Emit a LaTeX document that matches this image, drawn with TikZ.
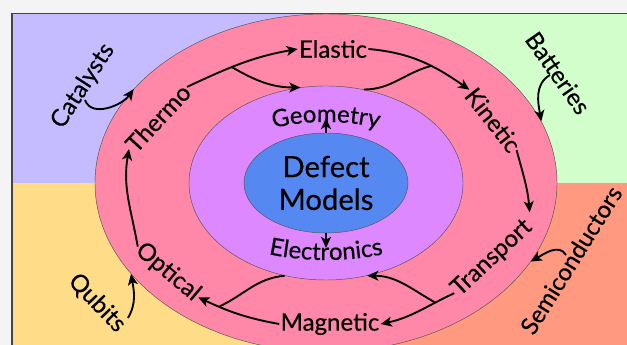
\documentclass[tikz,border=0pt]{standalone}
\usepackage{fontspec}
\setmainfont{Lato}[FakeBold=0.4]
\usetikzlibrary{positioning,arrows.meta,shapes.geometric,decorations.text}

\definecolor{pagegray}{HTML}{F4F4F4}
\definecolor{framegray}{HTML}{444444}
\definecolor{lavender}{HTML}{C4BCFF}
\definecolor{mint}{HTML}{D2FECC}
\definecolor{sand}{HTML}{FFDC88}
\definecolor{salmon}{HTML}{FF9A80}
\definecolor{ringpink}{HTML}{FF87A7}
\definecolor{ringviolet}{HTML}{DD88FF}
\definecolor{coreblue}{HTML}{5588F0}
\definecolor{edgegray}{HTML}{555555}

\newcommand{\ringfont}{\fontsize{20.5}{24}\selectfont}
\newcommand{\corefont}{\fontsize{25}{28}\selectfont}

\begin{document}
\begin{tikzpicture}[
        x=0.03cm, y=0.03cm, % one unit = one pixel of the reference
        ring/.style={draw=edgegray, line width=0.4pt, ellipse, inner sep=0pt},
        topic/.style={font=\ringfont, inner sep=1pt},
        flow/.style={draw, line width=1.6pt, -{Stealth[length=9.5pt, width=8.5pt, inset=2.5pt]}},
        feed/.style={draw, line width=1.6pt}
    ]

    % Background
    \clip (0,0) rectangle (627,345);
    \fill[pagegray] (0,0) rectangle (627,345);
    \fill[lavender] (12,162) rectangle (326,332);
    \fill[mint] (326,162) rectangle (627,332);
    \fill[sand] (12,0) rectangle (326,162);
    \fill[salmon] (326,0) rectangle (627,162);
    \draw[framegray, line width=1.4pt] (12,-5) -- (12,331.5) -- (632,331.5);

    % Rings
    \node[ring, fill=ringpink, minimum width=13.86cm, minimum height=10.14cm] (outer) at (326,162) {};
    \node[ring, fill=ringviolet, minimum width=8.22cm, minimum height=5.82cm] (mid) at (326,162) {};
    \node[ring, fill=coreblue, minimum width=4.92cm, minimum height=3cm, font=\corefont, align=center] (core) at (326,162) {Defect\\Models};

    % Nodes
    \node[topic, rotate=47] (thermo) at (158,227) {Thermo};
    \node[topic] (elastic) at (333,296) {Elastic};
    \node[topic, rotate=-52] (kinetic) at (493,225) {Kinetic};
    \node[topic, rotate=43] (transport) at (492,87) {Transport};
    \node[topic] (magnetic) at (330,21) {Magnetic};
    \node[topic, rotate=-40] (optical) at (168,73) {Optical};

    \node[topic, rotate=57] (catalysts) at (83,259) {Catalysts};
    \node[topic, rotate=-55] (batteries) at (558,272) {Batteries};
    \node[topic, rotate=58] (semicond) at (571,85) {Semiconductors};
    \node[topic, rotate=-46] (qubits) at (97,42) {Qubits};

    \path[decorate, decoration={text along path, text align=center, text={|\ringfont|Geometry}}]
        (326,162) ++(155:120 and 61) arc[start angle=155, end angle=25, x radius=120, y radius=61];
    \path[decorate, decoration={text along path, text align=center, text={|\ringfont|Electronics}}]
        (326,162) ++(205:150 and 77) arc[start angle=205, end angle=335, x radius=150, y radius=77];

    % Free ends
    \coordinate (catstart) at (85,245);
    \coordinate (batstart) at (550,270);
    \coordinate (semistart) at (566,90);
    \coordinate (qubstart) at (128,27);
    \coordinate (geotip) at (326,227);
    \coordinate (electip) at (326,97);

    % Edges
    \draw[flow] (catstart) to[out=-70, in=-125] (outer.154);
    \draw[flow] (thermo.east) to[out=25, in=190] coordinate[pos=0.41] (split1) (elastic.west);
    \draw[flow] (split1) to[out=-30, in=180] (mid.105);
    \draw[flow] (elastic.east) to[out=-5, in=145] coordinate[pos=0.6] (split2) (kinetic.west);
    \draw[feed] (mid.68) to[out=0, in=195] (split2);
    \draw[flow] (core.north) -- (geotip);

    \draw[flow] (batstart) to[out=210, in=100] (outer.16);
    \draw[flow] (kinetic.east) to[out=-75, in=95] ([yshift=9pt]transport.east);
    \draw[flow] (semistart) to[out=120, in=30] (outer.-21);

    \draw[flow] (transport.west) to[out=205, in=12] coordinate[pos=0.25] (split3) (magnetic.east);
    \draw[flow] (split3) to[out=150, in=0] (mid.-66);
    \draw[flow] (core.south) -- (electip);

    \draw[flow] (magnetic.west) to[out=170, in=-25] coordinate[pos=0.75] (split4) (optical.east);
    \draw[feed] (mid.246) to[out=185, in=25] (split4);
    \draw[flow] (qubstart) to[out=60, in=-80] (outer.205);
    \draw[flow] (optical.west) to[out=100, in=-100] (thermo.west);

\end{tikzpicture}
\end{document}
